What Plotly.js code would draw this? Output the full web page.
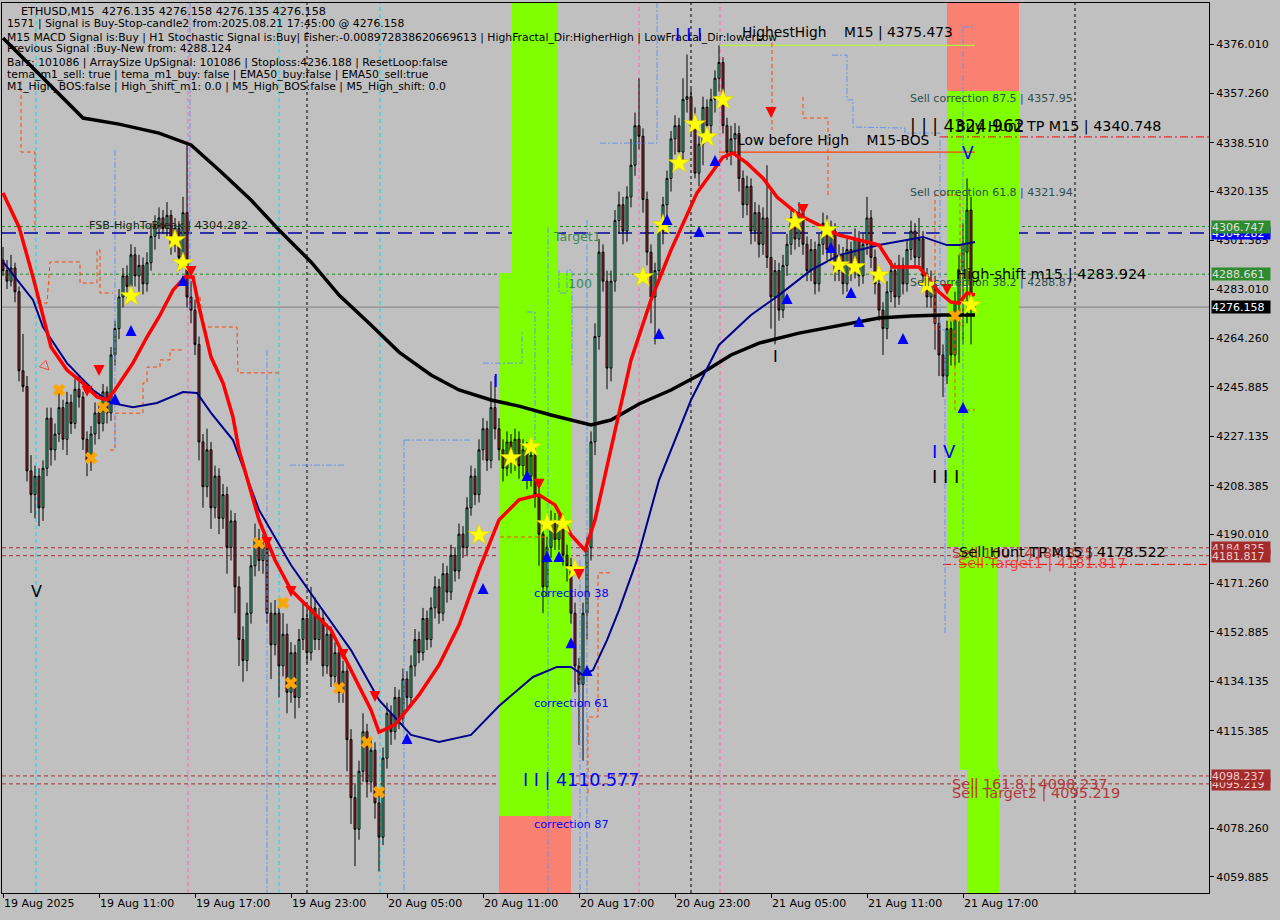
<!DOCTYPE html>
<html><head><meta charset="utf-8">
<script src="https://cdn.plot.ly/plotly-3.0.1.min.js"></script>
<style>html,body{margin:0;padding:0;background:#c0c0c0;}#chart{width:1280px;height:920px;}</style>
</head><body><div id="chart"></div>
<script>
// ---------- DATA ----------
const startTime = '2025-08-19 05:00'; // first M15 bar
const open = [
4294,4290,4286,4291,4282,4252,4246,4214,4205,4212,
4200,4215,4234,4222,4228,4238,4226,4240,4232,4245,
4242,4226,4218,4228,4236,4232,4244,4236,4258,4268,
4280,4288,4284,4296,4288,4292,4285,4293,4303,4307,
4310,4306,4311,4300,4306,4295,4312,4280,4275,4262,
4225,4208,4222,4200,4212,4196,4205,4185,4195,4170,
4150,4142,4160,4178,4188,4180,4186,4160,4148,4160,
4140,4152,4130,4145,4128,4150,4158,4145,4162,4150,
4158,4140,4152,4136,4145,4130,4138,4112,4090,4078,
4100,4115,4096,4108,4088,4075,4105,4122,4115,4128,
4120,4135,4128,4140,4150,4145,4158,4150,4162,4170,
4160,4175,4168,4182,4176,4190,4185,4200,4212,4205,
4222,4230,4218,4238,4230,4222,4215,4225,4218,4226,
4216,4222,4212,4220,4205,4190,4170,4185,4195,4188,
4195,4182,4178,4160,4140,4133,4160,4185,4225,4265,
4297,4286,4253,4286,4309,4315,4305,4318,4330,4345,
4341,4317,4297,4280,4290,4305,4315,4325,4340,4345,
4335,4355,4356,4345,4327,4338,4352,4345,4355,4363,
4369,4345,4335,4340,4342,4325,4315,4322,4305,4312,
4300,4310,4295,4280,4290,4275,4292,4300,4310,4302,
4312,4300,4290,4298,4285,4300,4308,4298,4305,4290,
4296,4285,4298,4290,4302,4288,4300,4310,4295,4285,
4275,4268,4282,4290,4280,4292,4285,4298,4305,4295,
4302,4288,4280,4285,4270,4258,4250,4268,4258,4278,
4290,4297,4313,4276.135];
const high = [
4299,4294,4296,4293,4284,4266,4250,4220,4216,4215,
4218,4238,4238,4232,4244,4241,4244,4243,4249,4250,
4244,4229,4231,4240,4239,4247,4246,4261,4271,4283,
4291,4292,4300,4299,4296,4295,4297,4308,4311,4314,
4313,4316,4313,4310,4308,4318,4338,4286,4279,4265,
4228,4230,4225,4216,4215,4209,4208,4199,4198,4174,
4155,4164,4182,4194,4192,4190,4189,4164,4165,4163,
4160,4156,4149,4148,4154,4164,4161,4170,4166,4162,
4161,4156,4155,4149,4148,4142,4141,4116,4095,4104,
4122,4118,4112,4111,4092,4109,4126,4125,4132,4131,
4139,4138,4144,4154,4153,4162,4161,4166,4174,4173,
4179,4178,4186,4185,4194,4193,4204,4216,4215,4226,
4234,4233,4248,4250,4234,4226,4229,4228,4230,4229,
4226,4225,4224,4223,4208,4194,4189,4199,4198,4199,
4198,4186,4181,4164,4143,4164,4189,4229,4270,4302,
4300,4290,4290,4313,4320,4318,4322,4340,4350,4363,
4344,4320,4300,4293,4308,4318,4328,4343,4349,4348,
4363,4372,4359,4352,4341,4356,4355,4359,4366,4375.5,
4371,4348,4345,4346,4345,4328,4326,4325,4316,4315,
4314,4330,4320,4294,4293,4296,4304,4314,4313,4316,
4315,4303,4302,4301,4304,4312,4311,4309,4308,4300,
4299,4302,4301,4306,4305,4304,4318,4313,4298,4288,
4278,4286,4294,4293,4296,4295,4302,4309,4308,4310,
4305,4291,4290,4288,4273,4262,4271,4272,4282,4296,
4308,4325,4318,4276.158];
const low = [
4288,4283,4284,4278,4248,4244,4210,4198,4196,4193,
4195,4212,4216,4218,4225,4222,4220,4228,4230,4238,
4222,4212,4214,4224,4226,4229,4232,4233,4254,4264,
4276,4279,4280,4284,4282,4281,4282,4290,4298,4302,
4304,4303,4296,4297,4290,4292,4276,4270,4258,4218,
4200,4204,4192,4196,4190,4192,4175,4180,4160,4140,
4134,4138,4156,4174,4176,4175,4156,4135,4144,4128,
4136,4122,4126,4120,4124,4146,4141,4142,4146,4146,
4136,4137,4132,4133,4126,4126,4100,4080,4064,4074,
4096,4090,4092,4082,4062,4072,4101,4110,4112,4116,
4117,4124,4125,4136,4141,4142,4146,4147,4158,4156,
4157,4164,4165,4172,4173,4181,4182,4197,4201,4202,
4218,4214,4215,4226,4218,4210,4212,4213,4214,4211,
4212,4207,4208,4200,4178,4160,4166,4181,4184,4184,
4178,4172,4156,4130,4110,4104,4150,4180,4220,4260,
4282,4245,4248,4282,4304,4300,4301,4314,4326,4336,
4312,4292,4270,4262,4286,4300,4310,4320,4334,4330,
4332,4350,4342,4325,4322,4330,4340,4342,4350,4358,
4342,4332,4330,4334,4320,4310,4311,4300,4301,4295,
4296,4291,4268,4262,4271,4272,4288,4296,4298,4299,
4296,4286,4286,4281,4282,4296,4294,4294,4286,4286,
4281,4282,4286,4287,4284,4285,4296,4291,4281,4271,
4258,4264,4278,4276,4277,4281,4282,4294,4291,4292,
4284,4276,4276,4260,4250,4242,4247,4254,4254,4255,
4262,4270,4262,4276.135];
const close = [
4290,4286,4291,4282,4252,4246,4214,4205,4212,4200,
4215,4234,4222,4228,4238,4226,4240,4232,4245,4242,
4226,4218,4228,4236,4232,4244,4236,4258,4268,4280,
4288,4284,4296,4288,4292,4285,4293,4303,4307,4310,
4306,4311,4300,4306,4295,4312,4280,4275,4262,4225,
4208,4222,4200,4212,4196,4205,4185,4195,4170,4150,
4142,4160,4178,4188,4180,4186,4160,4148,4160,4140,
4152,4130,4145,4128,4150,4158,4145,4162,4150,4158,
4140,4152,4136,4145,4130,4138,4112,4090,4078,4100,
4115,4096,4108,4088,4075,4105,4122,4115,4128,4120,
4135,4128,4140,4150,4145,4158,4150,4162,4170,4160,
4175,4168,4182,4176,4190,4185,4200,4212,4205,4222,
4230,4218,4238,4230,4222,4215,4225,4218,4226,4216,
4222,4212,4220,4205,4190,4170,4185,4195,4188,4195,
4182,4178,4160,4140,4133,4160,4185,4225,4265,4297,
4286,4253,4286,4309,4315,4305,4318,4330,4345,4341,
4317,4297,4280,4290,4305,4315,4325,4340,4345,4335,
4355,4356,4345,4327,4338,4352,4345,4355,4363,4369,
4345,4335,4340,4342,4325,4315,4322,4305,4312,4300,
4310,4295,4280,4290,4275,4292,4300,4310,4302,4312,
4300,4290,4298,4285,4300,4308,4298,4305,4290,4296,
4285,4298,4290,4302,4288,4300,4310,4295,4285,4275,
4268,4282,4290,4280,4292,4285,4298,4305,4295,4302,
4288,4280,4285,4270,4258,4250,4268,4258,4278,4290,
4300,4313,4280,4276.158];

// moving averages (bar index, price)
const maSlowIdx = [0,12,20,29,39,47,54,62,69,77,84,92,99,107,114,122,129,137,142,147,152,159,167,174,182,189,199,212,219,227,235,243];
const maSlowVal = [4378.3,4360.1,4347.9,4345.6,4342.2,4337.7,4328.2,4316.8,4305.4,4293.3,4280.7,4269.4,4259.1,4250.4,4244.7,4240.9,4238.6,4235.2,4233.3,4231.4,4233.3,4239.4,4244.7,4250.4,4258,4262.5,4266.3,4270.1,4272,4272.8,4273.2,4273.2];
const ma50Idx = [0,7.5,10,16,22.5,27,32.5,38.5,45,48.5,52,57.5,64,72,79,87,94,102,109,117,124,132.5,138.5,142,145,147.5,151,154,158.5,164,172,179,187,194,202,209,219,230,236,239,243];
const ma50Val = [4293.3,4278.9,4268.6,4254.9,4244.7,4239.8,4238.2,4239.8,4243.9,4243.6,4236,4225.7,4199.2,4178.3,4163.1,4146,4127.1,4113.8,4111.1,4113.8,4124.8,4135.8,4139.6,4139.6,4136.5,4138.4,4149.8,4161.2,4180.2,4210.5,4240.9,4261.8,4273.2,4280.7,4290.2,4295.9,4299.7,4302.8,4299.7,4299.7,4300.9];
const maFastIdx = [0,4,7.5,12,16,20,23.5,26,28,32.5,36,39,42.5,45.5,47.5,49,52,55,57.5,59,64,68,72,77,82,87,92,94,98,104,109,114,119,124,129,134,138,142,145.5,148,152,157,162,167,173.5,177,180,182.5,186,190,193.5,199,204,209,214,219,222.5,229,231,234,237,239,241,243];
const maFastVal = [4319.5,4306.6,4287.6,4261,4252.3,4247.3,4242.1,4240.9,4244.7,4255,4264.8,4272.4,4282.6,4287.6,4287.6,4276.2,4257.2,4247.4,4234.4,4221.9,4195.4,4180.2,4168.8,4161.2,4153.6,4138.4,4123.3,4114.9,4117.6,4129,4140.3,4155.5,4176.4,4195.4,4203,4204.9,4201.1,4189.7,4183.9,4195.4,4221.9,4256.1,4278.9,4297.8,4319.5,4327.1,4333.1,4334.6,4330.8,4325.1,4317.9,4311.1,4307.3,4303.5,4301.6,4299.7,4291.4,4291.4,4287.6,4281.9,4278.1,4277.7,4281.5,4280.8];

// fractal channels (step lines), null separates pieces
const chanOrIdx = [4.5,4.5,8,8,null,8.5,11,11.75,19.25,19.25,23.5,23.5,24.25,24.25,27.5,null,
  26.75,28,28,35,35,36,36,39.25,39.25,41.75,41.75,44.75,null,
  49.25,50,58.5,58.75,69.25,null,
  124.25,135.5,null,146.25,146.25,148.75,148.75,152,null,
  192.25,192.25,null,200,200,206.25,206.25,null,
  233,233,239.25,239.25,null,238,238,243];
const chanOrVal = [4362,4335,4335,4305,null,4277.7,4277.7,4293.3,4293.3,4285.3,4285.3,4297.8,4297.8,4281.5,4281.5,null,
  4221.9,4221.9,4235.9,4235.9,4247.4,4247.4,4253.4,4253.4,4256.1,4256.1,4259.9,4259.9,null,
  4280,4268.6,4268.6,4251.2,4251.2,null,
  4188.9,4188.9,null,4091.8,4120.6,4120.6,4175.3,4175.3,null,
  4376.4,4343.4,null,4355.9,4347.9,4347.9,4317.9,null,
  4267.5,4318.7,4318.7,4267.5,null,4267.5,4237.1,4237.1];
const chanBlIdx = [120,129.75,129.75,null,131,133,133,null,136.25,136.25,null,139,139,141,141,142.25,142.25,null,
  146,146,null,144.25,144.25,null,149.25,163.5,163.5,null,
  207.25,211,211,212.5,212.5,224.25,225.5,225.5,234.25,234.25,235.5,235.5,null,
  240,243,null,240,240,null,28,28,null,46.75,46.75,null,66,66,null,71.75,85.5,null,100.25,116.75,null,100.25,100.25];
const chanBlVal = [4254.9,4254.9,4267.5,null,4274.3,4274.3,4225.7,null,4306.6,4053.8,null,4290.2,4281.5,4281.5,4290.2,4290.2,4253.4,null,
  4309.2,4053.8,null,4180.2,4053.8,null,4338.4,4338.4,4391.6,null,
  4371.8,4371.8,4354.8,4354.8,4344.5,4344.1,4344.1,4342.2,4342.2,4267.5,4267.5,4151.7,null,
  4382.5,4382.5,null,4382.5,4180.2,null,4335.8,4221.9,null,4391.6,4275.1,null,4259.9,4053.8,null,4216.2,4216.2,null,4225.7,4225.7,null,4225.7,4053.8];

// signal markers (bar index, price)
const starIdx = [32,43,45,119,127,132,136,140,143,160,165,169,173,176,180,198,206,209,213,219,231,242];
const starVal = [4280.4,4301.6,4292.9,4189.7,4218.9,4223.1,4193.9,4193.9,4176.4,4287.6,4307.3,4330.8,4345.6,4340.7,4354.8,4308.5,4305.4,4292.1,4291.4,4288.3,4284.5,4277];
const crossIdx = [14,22,25,64,70,72,84,91,94,238];
const crossVal = [4244.7,4218.9,4238.2,4186.6,4163.9,4133.5,4131.6,4111.1,4092.1,4272.8];
const upIdx = [28,32,45,101,120,131,136,139,142,146,164,166,174,178,196,207,212,214,225,240];
const upVal = [4243.5,4269.4,4288.3,4114.5,4171.5,4214.3,4183.6,4183.6,4150.9,4140.3,4268.2,4311.5,4306.9,4333.9,4281.5,4300.9,4283.8,4272.8,4266.3,4240.1];
const downIdx = [21,24,47,66,72,85,93,134,144,192,200,236];
const downVal = [4242.1,4250,4287.6,4184.7,4166.1,4142.2,4126.3,4206.8,4172.6,4347.9,4311.1,4280.8];
const hintIdx = [11.5];
const hintVal = [4252.3];

// axis ticks
const xTickIdx = [0,24,48,72,96,120,144,168,192,216,240];
const xTickText = ['19 Aug 2025','19 Aug 11:00','19 Aug 17:00','19 Aug 23:00','20 Aug 05:00','20 Aug 11:00','20 Aug 17:00','20 Aug 23:00','21 Aug 05:00','21 Aug 11:00','21 Aug 17:00'];
const yTickVals = [4376.010,4357.260,4338.510,4320.135,4301.385,4283.010,4264.260,4245.885,4227.135,4208.385,4190.010,4171.260,4152.885,4134.135,4115.385,4096.635,4078.260,4059.885];

// levels
const levelHighestHigh = 4375.473, levelBuyHuntTP = 4340.748, levelLowBeforeHigh = 4335.0;
const levelG1 = 4306.747, levelFSB = 4304.282, levelG2 = 4288.661, levelLast = 4276.158;
const levelSell100 = 4184.825, levelTarget1 = 4181.817, levelHuntTP = 4178.522;
const levelSell1618 = 4098.237, levelTarget2 = 4095.219;

// ---------- HELPERS ----------
const T0 = Date.UTC(2025,7,19,5,0,0);
function t(i){ if(i===null) return null; const d=new Date(T0+Math.round(i*15*60000)); const p=n=>String(n).padStart(2,'0');
  return d.getUTCFullYear()+'-'+p(d.getUTCMonth()+1)+'-'+p(d.getUTCDate())+' '+p(d.getUTCHours())+':'+p(d.getUTCMinutes())+':'+p(d.getUTCSeconds()); }
const times = open.map((_,i)=>t(i));
const YMIN=4053.81, YMAX=4391.57;
const ML=2, MT=3, PW=1207, PH=890;
const ax = px => (px-ML)/PW;
const ay = py => (MT+PH-py)/PH;
const FONT = 'DejaVu Sans';

const traces = [];
traces.push({type:'scatter',mode:'lines',x:chanOrIdx.map(t),y:chanOrVal,line:{color:'#FF4500',width:1,dash:'4px,3px'},connectgaps:false,hoverinfo:'skip'});
traces.push({type:'scatter',mode:'lines',x:chanBlIdx.map(t),y:chanBlVal,line:{color:'#6495ED',width:1,dash:'6px,2px,2px,2px'},connectgaps:false,hoverinfo:'skip'});
traces.push({type:'candlestick',x:times,open:open,high:high,low:low,close:close,
  increasing:{line:{color:'#000000',width:1},fillcolor:'#3CDC9C'},
  decreasing:{line:{color:'#000000',width:1},fillcolor:'#B02A3A'},
  whiskerwidth:0,hoverinfo:'skip'});
traces.push({type:'scatter',mode:'lines',x:maSlowIdx.map(t),y:maSlowVal,line:{color:'#000000',width:3.5},hoverinfo:'skip'});
traces.push({type:'scatter',mode:'lines',x:ma50Idx.map(t),y:ma50Val,line:{color:'#00008B',width:2},hoverinfo:'skip'});
traces.push({type:'scatter',mode:'lines',x:maFastIdx.map(t),y:maFastVal,line:{color:'#FF0000',width:3.5},hoverinfo:'skip'});
traces.push({type:'scatter',mode:'markers',x:crossIdx.map(t),y:crossVal,marker:{symbol:'x',size:11,color:'#FFA500',line:{width:0}},hoverinfo:'skip'});
traces.push({type:'scatter',mode:'markers',x:starIdx.map(t),y:starVal,marker:{symbol:'star',size:16,color:'#FFFF00',line:{color:'#D8C800',width:0.5}},hoverinfo:'skip'});
traces.push({type:'scatter',mode:'markers',x:upIdx.map(t),y:upVal,marker:{symbol:'arrow-up',size:11,color:'#0000FF',line:{width:0}},hoverinfo:'skip'});
traces.push({type:'scatter',mode:'markers',x:downIdx.map(t),y:downVal,marker:{symbol:'arrow-down',size:11,color:'#FF0000',line:{width:0}},hoverinfo:'skip'});
traces.push({type:'scatter',mode:'markers',x:hintIdx.map(t),y:hintVal,marker:{symbol:'arrow-down-open',size:9,color:'#FF4040',angle:-45,line:{width:1,color:'#FF4040'}},hoverinfo:'skip'});

// ---------- SHAPES ----------
const shapes = [];
function rect(i0,i1,p0,p1,color){ shapes.push({type:'rect',xref:'x',yref:'y',x0:t(i0),x1:t(i1),y0:p0,y1:p1,fillcolor:color,line:{width:0},layer:'below'}); }
function vline(i,color,dash){ shapes.push({type:'line',xref:'x',yref:'paper',x0:t(i),x1:t(i),y0:0,y1:1,line:{color:color,width:1,dash:dash},layer:'below'}); }
function hline(p,color,dash,i0,i1,w){ const s={type:'line',yref:'y',y0:p,y1:p,line:{color:color,width:w||1,dash:dash},layer:'below'};
  if(i0===undefined||i0===null){s.xref='paper';s.x0=0;s.x1=1;} else {s.xref='x';s.x0=t(i0);s.x1=(i1===null?t(301.5):t(i1));}
  shapes.push(s); }
// correction zones
rect(127.25,138.75,4289.1,YMAX,'#7FFF00');
rect(124,142,4083.0,4289.1,'#7FFF00');
rect(124,142,YMIN,4083.0,'#FA8072');
rect(236,254,4358.2,YMAX,'#FA8072');
rect(236,254,4185.1,4358.2,'#7FFF00');
rect(239.25,248.75,4100.5,4185.1,'#7FFF00');
rect(241,249,YMIN,4100.5,'#7FFF00');
// vertical markers
[8.25,69,94.25].forEach(i=>vline(i,'#00E0F0','4px,3px'));
[46.25,159,179.25].forEach(i=>vline(i,'#FF69B4','4px,3px'));
[76,172,268].forEach(i=>vline(i,'#000000','3px,3px'));
// horizontal levels
hline(levelG1,'#1E8C1E','3px,3px');
hline(levelG2,'#1E8C1E','3px,3px');
hline(levelFSB,'#0000A0','14px,8px',undefined,undefined,1.3);
hline(levelLast,'#808080','solid');
hline(levelSell100,'#A83030','4px,3px');
hline(levelTarget1,'#A83030','4px,3px');
hline(levelSell1618,'#A83030','4px,3px');
hline(levelTarget2,'#A83030','4px,3px');
hline(levelHuntTP,'#FF0000','8px,3px,2px,3px',235,null);
hline(levelBuyHuntTP,'#FF0000','8px,3px,2px,3px',234.25,null);
hline(levelLowBeforeHigh,'#FF4000','solid',179,243,1.3);
hline(levelHighestHigh,'#B8F040','solid',179,243,1.3);
hline(4284.0,'#FFFFFF','3px,2px',228.75,242.5);

// ---------- ANNOTATIONS ----------
const ann = [];
function txt(px,py,text,size,color,anchor){ ann.push({xref:'paper',yref:'paper',x:ax(px),y:ay(py),xanchor:anchor||'left',yanchor:'middle',showarrow:false,
  text:text.replace(/ {2,}/g,m=>'\u00a0'.repeat(m.length)),font:{family:FONT,size:size,color:color}}); }
const hdr = [
 ['ETHUSD,M15\u00a0\u00a04276.135 4276.158 4276.135 4276.158',11],
 ['1571 | Signal is Buy-Stop-candle2 from:2025.08.21 17:45:00 @ 4276.158',24],
 ['M15 MACD Signal is:Buy | H1 Stochastic Signal is:Buy| Fisher:-0.008972838620669613 | HighFractal_Dir:HigherHigh | LowFractal_Dir:lowerLow',37],
 ['Previous Signal :Buy-New from: 4288.124',49],
 ['Bars: 101086 | ArraySize UpSignal: 101086 | Stoploss:4236.188 | ResetLoop:false',62],
 ['tema_m1_sell: true | tema_m1_buy: false | EMA50_buy:false | EMA50_sell:true',74],
 ['M1_High_BOS:false | High_shift_m1: 0.0 | M5_High_BOS:false | M5_High_shift: 0.0',86]];
hdr.forEach((h,k)=>txt(k===0?19:5,h[1],h[0],k===0?11.2:10.8,'#000000'));

txt(740,33,'HighestHigh    M15 | 4375.473',13.8,'#000000');
txt(735,140,'Low before High    M15-BOS',13.8,'#000000');
txt(1163,126,'Buy Hunt TP M15 | 4340.748',14.3,'#000000','right');
txt(908,126,'| | | 4324.962',17,'#000000');
txt(908,99,'Sell correction 87.5 | 4357.95',11,'#2F4F4F');
txt(908,193,'Sell correction 61.8 | 4321.94',11,'#2F4F4F');
txt(908,282,'Sell correction 38.2 | 4288.87',11,'#2F4F4F');
txt(954,274,'High-shift m15 | 4283.924',14.5,'#000000');
txt(960,153,'V',17,'#0000FF');
txt(87,226,'FSB-HighToBreak | 4304.282',11.2,'#202020');
txt(551,236,'Target1',12.5,'#3A8A50');
txt(566,283,'100',12.5,'#3A8A50');
txt(532,593,'correction 38',11.3,'#0000FF');
txt(532,703,'correction 61',11.3,'#0000FF');
txt(532,824,'correction 87',11.3,'#0000FF');
txt(521,780,'I I | 4110.577',17.5,'#0000FF');
txt(491,381,'I',18,'#0000FF');
txt(771,356,'I',16,'#000000');
txt(930,451,'I V',18,'#0000FF');
txt(930,477,'I I I',18,'#000000');
txt(29,591,'V',16,'#000000');
txt(673,35,'I I I',18,'#0000FF');
txt(950,553,'Sell 100 | 4184.825',14.5,'#B03A3A');
txt(957,552,'Sell Hunt TP M15 | 4178.522',14.5,'#000000');
txt(956,564,'Sell Target1 | 4181.817',14.5,'rgba(255,40,40,0.85)');
txt(950,784,'Sell 161.8 | 4098.237',14.5,'#B03A3A');
txt(950,793,'Sell Target2 | 4095.219',14.5,'#B03A3A');

function tag(p,bg,fg){ ann.push({xref:'paper',yref:'y',x:1,y:p,xanchor:'left',yanchor:'middle',xshift:2,showarrow:false,
  text:p.toFixed(3),bgcolor:bg,font:{family:FONT,size:11,color:fg},width:58,height:12,align:'left',borderpad:0}); }
tag(levelFSB,'#0000FF','#FFFFFF');
tag(levelG1,'#2E8B2E','#E0E0E0');
tag(levelG2,'#2E8B2E','#E0E0E0');
tag(levelLast,'#000000','#FFFFFF');
tag(levelSell100,'#A52A2A','#F0D0D0');
tag(levelTarget1,'#A52A2A','#F0D0D0');
tag(levelTarget2,'#A52A2A','#F0D0D0');
tag(levelSell1618,'#A52A2A','#F0D0D0');

const layout = {
  width:1280,height:920,margin:{l:ML,r:71,t:MT,b:27},
  paper_bgcolor:'#C0C0C0',plot_bgcolor:'#C0C0C0',showlegend:false,
  xaxis:{type:'date',range:[t(-0.25),t(301.5)],showgrid:false,zeroline:false,showline:true,mirror:true,linecolor:'#000',linewidth:1,
    ticks:'outside',ticklen:4,tickcolor:'#000',tickvals:xTickIdx.map(t),ticktext:xTickText,ticklabelposition:'outside right',
    tickfont:{family:FONT,size:11,color:'#000'},rangeslider:{visible:false},fixedrange:true},
  yaxis:{side:'right',range:[YMIN,YMAX],showgrid:false,zeroline:false,showline:true,mirror:true,linecolor:'#000',linewidth:1,
    ticks:'outside',ticklen:4,tickcolor:'#000',tickvals:yTickVals,ticktext:yTickVals.map(v=>v.toFixed(3)),
    tickfont:{family:FONT,size:11,color:'#000'},fixedrange:true},
  shapes:shapes,annotations:ann
};
Plotly.newPlot('chart',traces,layout,{staticPlot:true,displayModeBar:false});
</script></body></html>
